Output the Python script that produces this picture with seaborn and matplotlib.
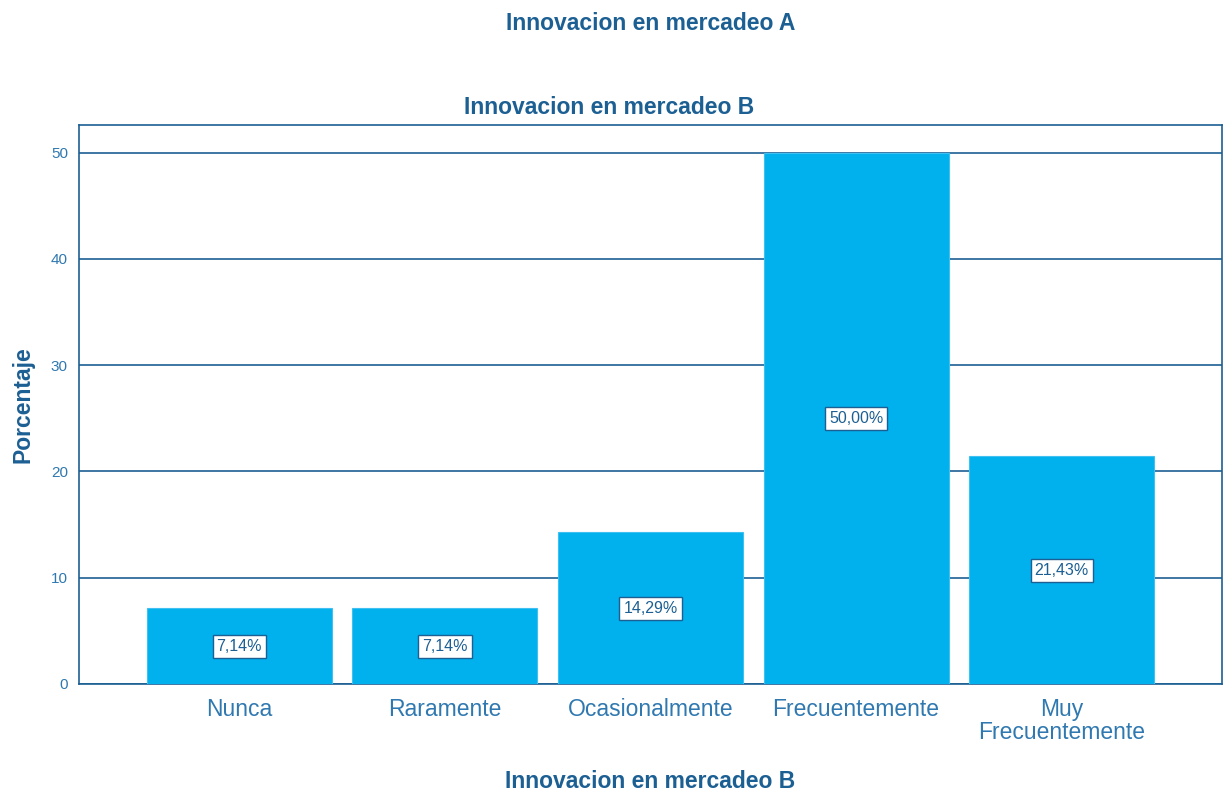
import matplotlib
matplotlib.use("Agg")
import matplotlib.pyplot as plt
import seaborn as sns
import pandas as pd

# Data
categorias = ["Nunca", "Raramente", "Ocasionalmente", "Frecuentemente", "Muy\nFrecuentemente"]
porcentajes = [7.14, 7.14, 14.29, 50.00, 21.43]
etiquetas = ["7,14%", "7,14%", "14,29%", "50,00%", "21,43%"]
yticks = [0, 10, 20, 30, 40, 50]

df = pd.DataFrame({"categoria": categorias, "porcentaje": porcentajes})

sns.set_style("white")
plt.rcParams['font.family'] = ['Liberation Sans', 'DejaVu Sans']

dark = "#1c5f93"
tick_col = "#2f78b0"
bar_col = "#00b1ed"

fig = plt.figure(figsize=(12.3, 7.93), dpi=100)
ax = fig.add_axes([0.0642, 0.1375, 0.9293, 0.7049])

sns.barplot(data=df, x="categoria", y="porcentaje", color=bar_col, width=0.9,
            saturation=1, edgecolor="#40c0f0", linewidth=0.8, ax=ax, zorder=3)

ax.set_ylim(0, 52.6)
ax.set_xlim(-0.78, 4.78)
ax.set_yticks(yticks)
ax.yaxis.grid(True, color=dark, linewidth=1.2, zorder=0)
ax.set_axisbelow(True)

for s in ax.spines.values():
    s.set_color(dark)
    s.set_linewidth(1.2)

ax.tick_params(axis="y", colors=tick_col, labelsize=11, length=0, pad=8)
ax.tick_params(axis="x", colors=tick_col, labelsize=16.5, length=0, pad=10)
for t in ax.get_xticklabels():
    t.set_linespacing(1.0)

# Value labels in the middle of each bar
for i, (v, lab) in enumerate(zip(porcentajes, etiquetas)):
    ax.text(i, v / 2, lab, ha="center", va="center", fontsize=11.5, color=dark,
            zorder=5, bbox=dict(boxstyle="square,pad=0.25", fc="white", ec=dark, lw=1))

ax.set_xlabel("Innovacion en mercadeo B", fontsize=16.5, fontweight="bold", color=dark, labelpad=19)
ax.set_ylabel("Porcentaje", fontsize=16.5, fontweight="bold", color=dark, labelpad=12)

fig.text(0.529, 0.970, "Innovacion en mercadeo A", ha="center", va="center",
         fontsize=16.5, fontweight="bold", color=dark)
fig.text(0.495, 0.865, "Innovacion en mercadeo B", ha="center", va="center",
         fontsize=16.5, fontweight="bold", color=dark)

fig.savefig("out.png", dpi=100)
